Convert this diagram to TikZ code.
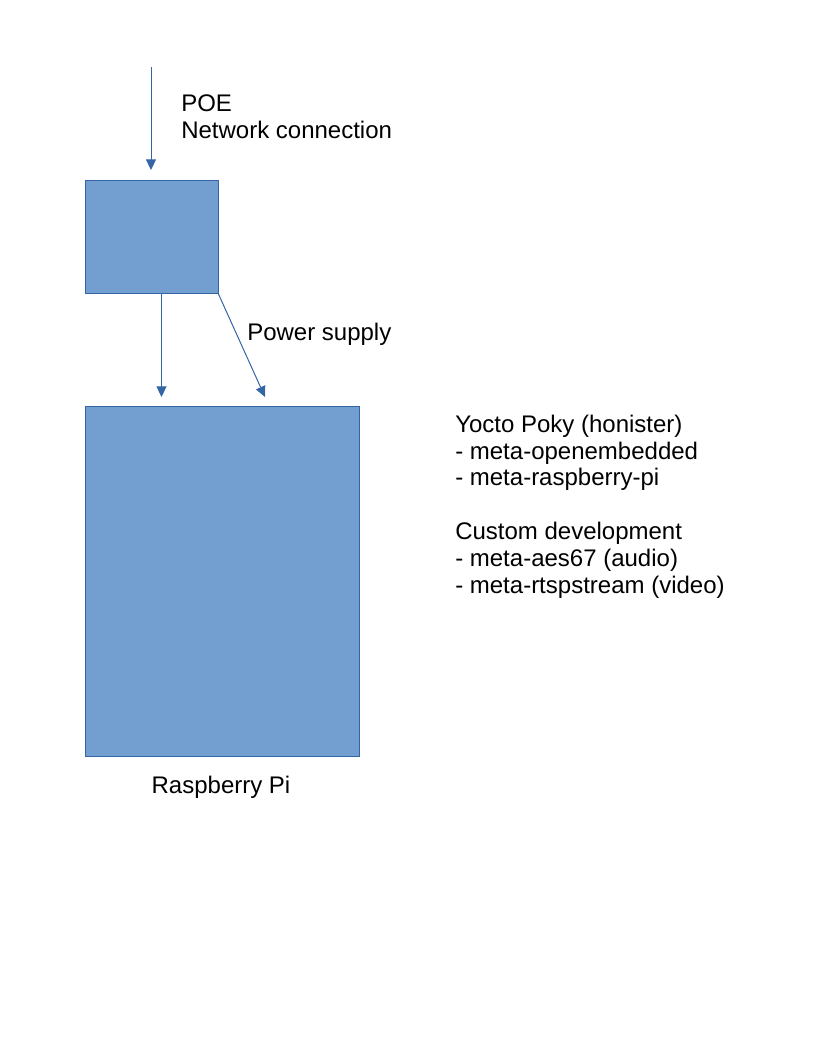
\documentclass[tikz,border=0pt]{standalone}
\usepackage{fontspec}
\setmainfont{Liberation Sans}
\usetikzlibrary{arrows.meta,calc}
\definecolor{boxfill}{HTML}{729FCF}
\definecolor{boxline}{HTML}{3465A4}
\begin{document}
\begin{tikzpicture}[x=0.75pt,y=-0.75pt,
  box/.style={draw=boxline,fill=boxfill,line width=0.75pt,inner sep=0pt,outer sep=0pt},
  conn/.style={draw=boxline,line width=0.75pt,-{Triangle[length=8pt,width=7.5pt]}},
  lbl/.style={inner sep=0pt,font=\fontsize{18pt}{20.1pt}\selectfont,align=left}]
\useasboundingbox (0,0) rectangle (816,1056);
\node[box,minimum width=99.75pt,minimum height=84.75pt] (small) at (151.5,236.5) {};
\node[box,minimum width=205.5pt,minimum height=262.5pt] (pi) at (222,581) {};
\coordinate (top) at (151,67);
\coordinate (pstip) at (265,397);
\draw[conn] (top) -- ([yshift=7.5pt]small.north -| top);
\draw[conn] ([xshift=7.5pt]small.south) -- ([xshift=7.5pt,yshift=6.75pt]small.south |- pi.north);
\draw[conn] (small.south east) -- (pstip);
\node[lbl,anchor=base west] (poe) at (181,138) {POE\\Network connection};
\node[lbl,anchor=base west] (power) at (247,340) {Power supply};
\node[lbl,anchor=base] (rpi) at (221,793) {Raspberry Pi};
\node[lbl,anchor=base west] (yocto) at (455,593) {Yocto Poky (honister)\\- meta-openembedded\\- meta-raspberry-pi\\[20.1pt]Custom development\\- meta-aes67 (audio)\\- meta-rtspstream (video)};
\end{tikzpicture}
\end{document}
